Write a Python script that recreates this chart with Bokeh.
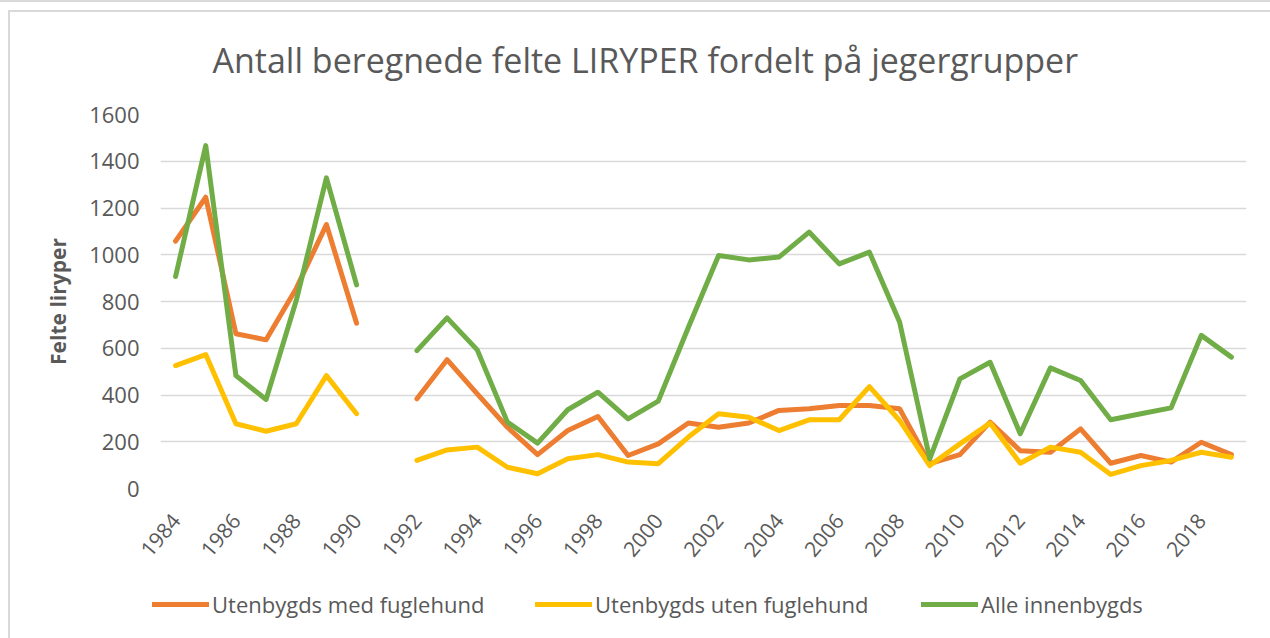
import numpy as np
from bokeh.plotting import figure
from bokeh.layouts import column
from bokeh.models import (Range1d, FixedTicker, Legend, LegendItem,
                          ColumnDataSource)
from bokeh.embed import file_html
from bokeh.resources import INLINE

# ---------------- data ----------------
years = list(range(1984, 2020))
med_fuglehund = [1058, 1246, 662, 636, 856, 1129, 707, None,
                 384, 551, 405, 262, 145, 248, 308, 141, 191, 280, 262, 280,
                 334, 341, 355, 355, 341, 106, 145, 284, 162, 155, 255, 108,
                 141, 113, 198, 145]
uten_fuglehund = [526, 573, 277, 245, 277, 483, 320, None,
                  120, 165, 177, 91, 63, 127, 145, 113, 106, 220, 320, 305,
                  248, 294, 294, 436, 291, 98, 191, 280, 108, 177, 155, 60,
                  98, 120, 155, 134]
alle_innenbygds = [907, 1467, 483, 381, 804, 1329, 871, None,
                   590, 730, 593, 284, 194, 337, 412, 298, 374, 690, 997, 978,
                   990, 1097, 961, 1011, 712, 127, 469, 540, 234, 516, 462, 294,
                   320, 345, 655, 562]
tick_years = list(range(1984, 2019, 2))
y_ticks = [0, 200, 400, 600, 800, 1000, 1200, 1400, 1600]
series_names = ["Utenbygds med fuglehund", "Utenbygds uten fuglehund", "Alle innenbygds"]
series_values = [med_fuglehund, uten_fuglehund, alle_innenbygds]
colors = ["#ED7D31", "#FFC000", "#70AD47"]
title_text = "Antall beregnede felte LIRYPER fordelt på jegergrupper"
y_label = "Felte liryper"

FONT = "Open Sans"
TXT = "#595959"
EDGE = "#d9d9d9"
G = f"linear-gradient({EDGE},{EDGE})"

# ---------------- main chart ----------------
p = figure(width=1270, height=575, output_backend="svg", toolbar_location=None,
           x_range=Range1d(1983.5, 2019.5), y_range=Range1d(0, 1600),
           min_border_left=160, min_border_right=24, min_border_top=114,
           min_border_bottom=87)
p.frame_align = False
p.outline_line_color = None
p.background_fill_color = "white"
p.border_fill_alpha = 0
p.styles = {"background": f"{G} 0 0 / 100% 2px no-repeat, {G} 8px 10px / 100% 2px no-repeat, "
                          f"{G} 8px 10px / 2px 100% no-repeat, white"}

# title
p.title.text = title_text
p.title.align = "left"
p.title.offset = 52
p.title.text_font = FONT
p.title.text_font_size = "34px"
p.title.text_font_style = "normal"
p.title.text_color = TXT
p.title.standoff = 63

# grid
p.xgrid.grid_line_color = None
p.ygrid.grid_line_color = EDGE
p.ygrid.grid_line_width = 1.6
p.ygrid.ticker = FixedTicker(ticks=y_ticks)

# axes
p.yaxis.ticker = FixedTicker(ticks=y_ticks)
p.xaxis.ticker = FixedTicker(ticks=tick_years)
for ax in (p.xaxis[0], p.yaxis[0]):
    ax.axis_line_color = None
    ax.major_tick_line_color = None
    ax.minor_tick_line_color = None
    ax.major_tick_out = 0
    ax.major_tick_in = 0
    ax.minor_tick_out = 0
    ax.major_label_text_font = FONT
    ax.major_label_text_color = TXT
p.yaxis.major_label_text_font_size = "22px"
p.xaxis.major_label_text_font_size = "21px"
p.yaxis.major_label_standoff = 21
p.xaxis.major_label_standoff = 28
p.xaxis.major_label_orientation = 0.87
p.yaxis.axis_label = y_label
p.yaxis.axis_label_text_font = FONT
p.yaxis.axis_label_text_font_size = "21px"
p.yaxis.axis_label_text_font_style = "bold"
p.yaxis.axis_label_text_color = TXT
p.yaxis.axis_label_standoff = 14

for name, vals, col in zip(series_names, series_values, colors):
    ys = np.array([np.nan if v is None else v for v in vals], dtype=float)
    src = ColumnDataSource(dict(x=years, y=ys))
    p.line("x", "y", source=src, line_color=col, line_width=5,
           line_join="round", line_cap="round")

# ---------------- legend strip ----------------
q = figure(width=1270, height=63, output_backend="svg", toolbar_location=None,
           x_axis_type=None, y_axis_type=None,
           x_range=Range1d(0, 1), y_range=Range1d(0, 1),
           min_border_left=0, min_border_right=0, min_border_top=0, min_border_bottom=0)
q.frame_align = False
q.outline_line_color = None
q.xgrid.grid_line_color = None
q.ygrid.grid_line_color = None
q.border_fill_alpha = 0
q.background_fill_alpha = 0
q.styles = {"background": f"{G} 8px 0 / 2px 100% no-repeat, white"}

legend_x = [152, 535, 921]
for name, col, lx in zip(series_names, colors, legend_x):
    # legend proxy: a line with no drawable point
    proxy = q.line(x=[np.nan], y=[np.nan], line_color=col, line_width=5, line_cap="round")
    lg = Legend(items=[LegendItem(label=name, renderers=[proxy])],
                location=(lx, 19), orientation="horizontal",
                border_line_color=None, background_fill_alpha=0,
                padding=0, margin=0, spacing=0,
                glyph_width=57, glyph_height=20, label_height=20,
                label_standoff=3, label_text_font=FONT,
                label_text_font_size="22px", label_text_color=TXT)
    q.add_layout(lg, "center")

layout = column(p, q, spacing=0)
open("out.html", "w").write(file_html(layout, INLINE))
